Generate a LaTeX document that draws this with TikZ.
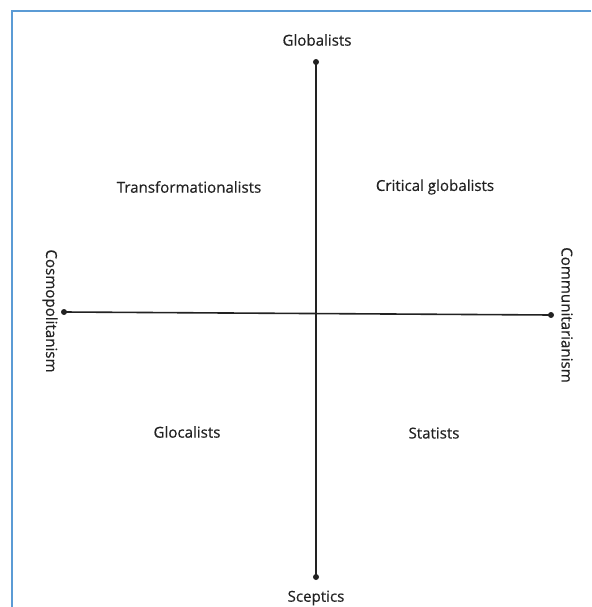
\documentclass[tikz,border=0pt]{standalone}
\usepackage{fontspec}
\setmainfont{Open Sans}
\newfontfamily\lblfont{Open Sans}[FakeBold=0.5]
\definecolor{framecol}{HTML}{5B9BD5}
\definecolor{inkcol}{HTML}{222222}
\tikzset{
  axis/.style={line width=1.6pt,inkcol},
  frame/.style={line width=2.8pt,framecol},
  lbl/.style={text=inkcol,font=\lblfont\fontsize{15.1}{17}\selectfont,inner sep=0pt}
}
\begin{document}
\begin{tikzpicture}[x=1pt,y=-1pt]
        \useasboundingbox (0,0) rectangle (591,607);
        \draw[frame] (591,11) -- (12,11) -- (12,607);
        \coordinate (N) at (316,62);
        \coordinate (S) at (316,577);
        \coordinate (W) at (64,312);
        \coordinate (E) at (551,315);
        \draw[axis] (N) -- (S);
        \draw[axis] (W) -- (E);
        \foreach \p in {N,S,W,E} \fill[inkcol] (\p) circle (3pt);
        \node[lbl] (glob) at (317,40) {Globalists};
        \node[lbl] (scep) at (316,598) {Sceptics};
        \node[lbl,rotate=-90] (cosmo) at (50,311) {Cosmopolitanism};
        \node[lbl,rotate=-90] (commu) at (567,315) {Communitarianism};
        \node[lbl] (trans) at (189,187) {Transformationalists};
        \node[lbl] (crit) at (435,187) {Critical globalists};
        \node[lbl] (gloc) at (187,432) {Glocalists};
        \node[lbl] (stat) at (434,433) {Statists};
    \end{tikzpicture}
\end{document}
